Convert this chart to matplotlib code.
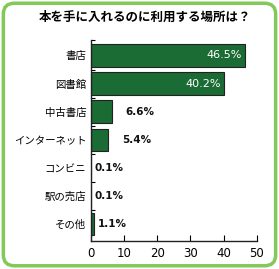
import matplotlib
matplotlib.use("Agg")
import matplotlib.pyplot as plt
from matplotlib.patches import FancyBboxPatch

plt.rcParams['font.family'] = ['Noto Sans CJK JP', 'DejaVu Sans']

# ---------- data ----------
categories = ["書店", "図書館", "中古書店", "インターネット", "コンビニ", "駅の売店", "その他"]
values = [46.5, 40.2, 6.6, 5.4, 0.1, 0.1, 1.1]
value_labels = ["46.5%", "40.2%", "6.6%", "5.4%", "0.1%", "0.1%", "1.1%"]
x_ticks = [0, 10, 20, 30, 40, 50]
title = "本を手に入れるのに利用する場所は？"

bar_color = "#1b6b35"
border_color = "#82c95a"
num_font = ["DejaVu Sans"]

# ---------- plot ----------
fig = plt.figure(figsize=(2.79, 2.69), dpi=100)
fig.patch.set_facecolor("white")

border = FancyBboxPatch((0.012, 0.012), 0.976, 0.976,
                        boxstyle="round,pad=0,rounding_size=0.04",
                        transform=fig.transFigure, facecolor="none",
                        edgecolor=border_color, linewidth=2.5)
fig.patches.append(border)

ax = fig.add_axes([90.5 / 279, 1 - 241 / 269, (257 - 90.5) / 279, (241 - 40) / 269])
ax.set_facecolor("none")

pos = list(range(len(categories)))
ax.barh(pos, values, height=0.8, color=bar_color, edgecolor="#222222", linewidth=0.8)

for p, v, lab in zip(pos, values, value_labels):
    if v > 20:
        ax.text(v - 1.0, p, lab, ha="right", va="center", color="white",
                fontsize=8, family=num_font)
    else:
        off = 4.0 if v > 2 else 1.0
        ax.text(v + off, p, lab, ha="left", va="center", color="#111111",
                fontsize=7.5, fontweight="bold", family=num_font)

ax.set_xlim(0, 50)
ax.set_ylim(6.6, -0.55)
ax.set_xticks(x_ticks)
ax.set_xticklabels([str(t) for t in x_ticks], fontsize=8.5, family=num_font)
ax.set_yticks([p + 0.5 for p in pos[:-1]] + [-0.55])
ax.set_yticklabels([])
ax.set_yticks(pos, minor=True)
ax.set_yticklabels(categories, minor=True, fontsize=7.5)
ax.tick_params(axis="y", which="minor", length=0, pad=3)
ax.tick_params(axis="y", which="major", direction="in", length=3, width=0.8)
ax.tick_params(axis="x", direction="in", length=4, width=0.8, pad=4)

for s in ["top", "right"]:
    ax.spines[s].set_visible(False)
for s in ["left", "bottom"]:
    ax.spines[s].set_linewidth(1.0)
    ax.spines[s].set_color("#222222")

fig.text(0.52, 1 - 17 / 269, title, ha="center", va="center",
         fontsize=9, fontweight="bold")

fig.savefig("out.png", dpi=100)
